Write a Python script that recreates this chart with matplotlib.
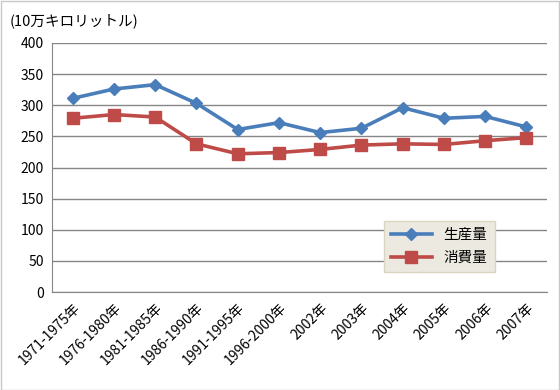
import matplotlib
matplotlib.use("Agg")
import matplotlib.pyplot as plt
from matplotlib.patches import Rectangle

plt.rcParams['font.family'] = ['Noto Sans CJK JP', 'DejaVu Sans']

categories = ["1971-1975年", "1976-1980年", "1981-1985年", "1986-1990年",
              "1991-1995年", "1996-2000年", "2002年", "2003年", "2004年",
              "2005年", "2006年", "2007年"]
production = [311, 326, 333, 303, 261, 272, 256, 263, 296, 279, 282, 265]
consumption = [279, 285, 281, 238, 222, 224, 229, 236, 238, 237, 243, 248]

fig = plt.figure(figsize=(5.6, 3.9), dpi=100)
ax = fig.add_axes([0.093, 0.251, 0.884, 0.639])

x = list(range(len(categories)))
ax.plot(x, production, color='#4A7EBB', lw=2.6, marker='D', ms=6.5,
        label='生産量', zorder=3)
ax.plot(x, consumption, color='#BE4B48', lw=2.6, marker='s', ms=8,
        label='消費量', zorder=3)

ax.set_xlim(-0.5, len(categories) - 0.5)
ax.set_ylim(0, 400)
ax.set_yticks(range(0, 401, 50))
ax.yaxis.grid(True, color='#868686', lw=1)
ax.set_axisbelow(True)
for s in ['top', 'right']:
    ax.spines[s].set_visible(False)
for s in ['left', 'bottom']:
    ax.spines[s].set_color('#868686')
ax.tick_params(length=0, labelsize=10, pad=6)
ax.set_xticks(x)
ax.set_xticklabels(categories, rotation=45, ha='right', rotation_mode='anchor')

leg = ax.legend(loc='upper left', bbox_to_anchor=(0.67, 0.287), frameon=True,
                fancybox=False, fontsize=10.5, handlelength=2.8,
                borderpad=0.5, labelspacing=0.6, borderaxespad=0)
leg.get_frame().set_facecolor('#ECEAE0')
leg.get_frame().set_edgecolor('#D9D5C1')
leg.get_frame().set_alpha(1)

fig.text(0.018, 0.965, "(10万キロリットル)", fontsize=10.5, va='top', ha='left')
fig.patches.append(Rectangle((0.001, 0.001), 0.997, 0.997, transform=fig.transFigure,
                             fill=False, edgecolor='#C8C8C8', lw=1))

fig.savefig("out.png", dpi=100)
